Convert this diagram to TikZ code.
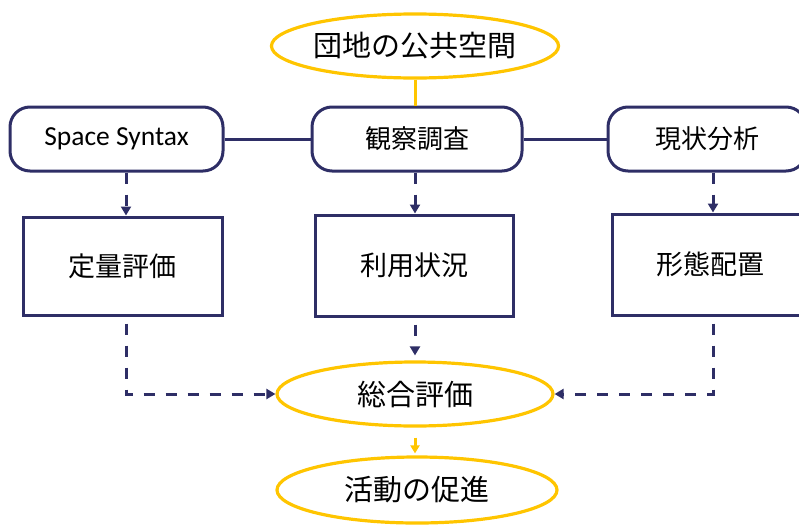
\documentclass[tikz,border=0pt]{standalone}
\usepackage{fontspec}
\setmainfont{Carlito}
\newfontfamily\jp{Noto Sans CJK JP}
\usetikzlibrary{arrows.meta,shapes.geometric}
\definecolor{navy}{RGB}{46,46,102}
\definecolor{gold}{RGB}{255,197,0}
\begin{document}
\begin{tikzpicture}[x=1pt,y=-1pt,
  oval/.style={ellipse,draw=gold,line width=3.2pt,inner sep=0pt,font=\jp\fontsize{29}{32}\selectfont},
  roundbox/.style={rectangle,rounded corners=20pt,draw=navy,line width=3pt,inner sep=0pt,minimum height=64pt,font=\jp\fontsize{26}{30}\selectfont},
  sqbox/.style={rectangle,draw=navy,line width=3pt,inner sep=0pt,font=\jp\fontsize{27}{30}\selectfont},
  navyline/.style={draw=navy,line width=3pt},
  dashline/.style={draw=navy,line width=3pt,dash pattern=on 11pt off 11pt,-{Triangle[width=10pt,length=9pt]}},
  goldline/.style={draw=gold,line width=3pt}]
\useasboundingbox (0,0) rectangle (799,525);
\clip (0,0) rectangle (799,525);
% nodes
\node[oval,minimum width=276pt,minimum height=64pt] (top) at (415,46) {団地の公共空間};
\node[roundbox,minimum width=213pt,font=\rmfamily\fontsize{27.5}{30}\selectfont] (ss) at (116.5,139) {Space Syntax};
\node[roundbox,minimum width=210pt] (obs) at (417,139) {観察調査};
\node[roundbox,minimum width=198pt] (cur) at (707,139) {現状分析};
\node[sqbox,minimum width=199pt,minimum height=98pt] (q) at (122.5,266) {定量評価};
\node[sqbox,minimum width=198pt,minimum height=101pt] (use) at (414,265.5) {利用状況};
\node[sqbox,minimum width=196pt,minimum height=101pt] (form) at (710,264.5) {形態配置};
\node[oval,minimum width=276pt,minimum height=64pt] (eval) at (415,394) {総合評価};
\node[oval,minimum width=280pt,minimum height=66pt] (act) at (417,490) {活動の促進};
% connectors
\draw[goldline] (top.south) -- (top.south |- obs.north);
\draw[navyline] (ss.east) -- (obs.west);
\draw[navyline] (obs.east) -- (cur.west);
\draw[dashline] ([xshift=9.5pt]ss.south) -- ([xshift=3.5pt]q.north);
\draw[dashline] ([xshift=-2pt]obs.south) -- ([xshift=1pt]use.north);
\draw[dashline] ([xshift=6pt]cur.south) -- ([xshift=3pt]form.north);
\draw[dashline,shorten <=7pt] ([xshift=3.5pt]q.south) |- (eval.west);
\draw[dashline,shorten <=7pt,shorten >=5pt] ([xshift=1pt]use.south) -- (eval.north);
\draw[dashline,shorten <=7pt] ([xshift=3pt]form.south) |- (eval.east);
\draw[goldline,shorten <=10pt,shorten >=2pt,-{Triangle[width=9pt,length=8pt]}] (eval.south) -- ([xshift=-2pt]act.north);
\end{tikzpicture}
\end{document}
